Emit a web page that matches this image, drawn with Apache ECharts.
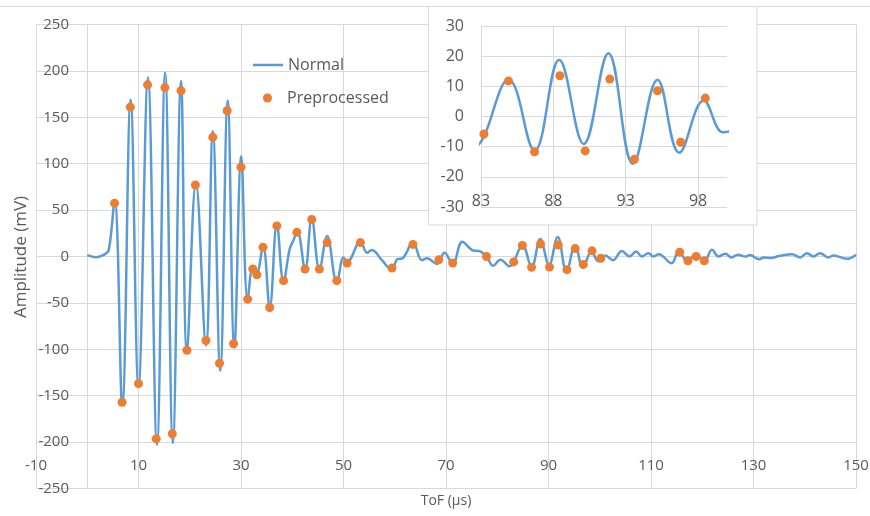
<!DOCTYPE html>
<html>
<head>
<meta charset="utf-8">
<script src="https://cdn.jsdelivr.net/npm/echarts@6/dist/echarts.min.js"></script>
<style>
  html, body { margin: 0; padding: 0; background: #fff; }
  #chart { width: 870px; height: 516px; }
</style>
</head>
<body>
<div id="chart"></div>
<script>
// Time of flight (µs) and amplitude (mV) of the raw ("Normal") signal
const normalTof = [
  0, 1.7, 3.3, 4.2, 5.33, 6.83, 8.46, 10.0, 11.84, 13.6, 15.2, 16.7, 18.3, 19.45,
  21.2, 23.16, 24.5, 25.95, 27.4, 28.7, 30.05, 31.3, 32.3, 33.0, 34.3, 35.6, 37.0,
  38.3, 39.5, 40.2, 41.0, 42.5, 43.8, 45.3, 46.8, 48.7, 50.0, 50.7, 53.3, 54.6,
  55.5, 57.5, 59.4, 60.5, 61.5, 63.55, 65.3, 66.3, 68.2, 69.7, 71.3, 73.2, 75.1,
  76.7, 77.9, 79.2, 80.6, 82.4, 84.9, 86.7, 88.4, 90.1, 91.8, 93.5, 95.2, 96.7,
  98.4, 99.7, 100.2, 101.1, 102.6, 104.3, 105.8, 107.1, 108.2, 109.5, 110.5,
  111.5, 114, 115.4, 117.1, 118.8, 120.4, 121.9, 123.2, 124.5, 125.7, 127, 128.4,
  129.3, 131.1, 132, 133.4, 135, 137.5, 139.1, 140.4, 141.7, 143, 144.6, 145.6,
  148.2, 150
];
const normalAmp = [
  1.5, -0.7, 2, 7, 61, -160, 169, -140, 193, -203, 198, -201, 189, -103,
  80, -96, 135, -123, 168, -98, 108, -47, -12, -19, 11, -55, 35,
  -27, 8, 17, 27, -14, 41, -14, 22, -28, -1, -6, 16, 4,
  7, -4, -14, -3, -2, 15, -4, -2, -8, 4, -8, 16, 7,
  5.5, 0, -10, -3.5, -10.5, 12.2, -11.3, 18.8, -9.1, 21, -15.7, 12.2, -12,
  5.3, -5.2, -4.8, 1, -4, 6, 0, 5.4, 0, 3.6, 0,
  2.5, -7.2, 5.4, -5, 2.5, -5.5, 7.2, 0, 3, -1, 2, 0,
  1.5, -3, -1, -1.5, 0.5, 2.5, -1, 3.6, 0, 3.6, -1, 1,
  -2.5, 2
];

// Preprocessed samples
const prepTof = [
  5.33, 6.8, 8.4, 10.0, 11.77, 13.46, 15.15, 16.6, 18.3, 19.45, 21.1, 23.16,
  24.5, 25.8, 27.3, 28.55, 30.0, 31.3, 32.3, 33.1, 34.3, 35.6, 37.0, 38.3,
  40.9, 42.5, 43.8, 45.3, 46.8, 48.7, 50.7, 53.3, 59.45, 63.55, 68.6, 71.3,
  77.9, 83.2, 84.9, 86.7, 88.45, 90.2, 91.9, 93.6, 95.2, 96.8, 98.5, 100.2,
  115.6, 117.2, 118.8, 120.4
];
const prepAmp = [
  57.5, -157, 161, -137, 185, -196.5, 182, -191, 178.6, -101, 77, -90.5,
  128.6, -115, 157, -94, 96.3, -46, -13.4, -19.7, 10, -55, 33, -26,
  26, -13.6, 40, -13.6, 15, -26, -7, 15, -12.5, 13, -3.6, -7,
  0, -5.8, 11.8, -11.7, 13.5, -11.4, 12.4, -14.2, 8.5, -8.5, 6.1, -2,
  4.7, -4.7, 0, -4.7
];

const normalData = normalTof.map((t, i) => [t, normalAmp[i]]);
const prepData = prepTof.map((t, i) => [t, prepAmp[i]]);

const FONT = 'Open Sans';
const TEXT = '#595959';
const GRID = '#D9D9D9';
const BLUE = '#5B9BD5';
const ORANGE = '#ED7D31';

const chart = echarts.init(document.getElementById('chart'), null, { renderer: 'canvas' });

chart.setOption({
  animation: false,
  backgroundColor: '#fff',
  textStyle: { fontFamily: FONT },
  grid: [
    { left: 36, right: 14, top: 24.5, bottom: 27.5, outerBoundsMode: 'none', containLabel: false },
    { left: 481, right: 143, top: 26, bottom: 309, outerBoundsMode: 'none', containLabel: false, z: 4 }
  ],
  legend: [
    {
      data: [{ name: 'Normal', icon: 'rect' }], left: 248, top: 52, itemWidth: 30, itemHeight: 2.5,
      textStyle: { color: TEXT, fontSize: 16, fontFamily: FONT }, z: 4
    },
    {
      data: [{ name: 'Preprocessed', icon: 'circle' }], left: 258, top: 85,
      itemWidth: 9, itemHeight: 9,
      textStyle: { color: TEXT, fontSize: 16, fontFamily: FONT, padding: [0, 0, 0, 10] }, z: 4
    }
  ],
  xAxis: [
    {
      type: 'value', gridIndex: 0, min: -10, max: 150, interval: 20,
      axisLine: { show: false, onZero: false },
      axisTick: { show: false },
      axisLabel: { color: TEXT, fontSize: 15, fontFamily: FONT, margin: -30 },
      splitLine: { lineStyle: { color: GRID, width: 1 } },
      name: 'ToF (µs)', nameLocation: 'middle', nameGap: 4,
      nameTextStyle: { color: TEXT, fontSize: 14, fontFamily: FONT }
    },
    {
      type: 'value', gridIndex: 1, min: 83, max: 100, interval: 5, z: 6,
      axisLine: { show: false, onZero: false },
      axisTick: { show: false },
      axisLabel: { color: TEXT, fontSize: 16, fontFamily: FONT, margin: -14, showMaxLabel: false },
      splitLine: { showMaxLine: false, lineStyle: { color: GRID, width: 1 } }
    }
  ],
  yAxis: [
    {
      // vertical axis sits on ToF = 0 (51 px right of the plot's left edge)
      type: 'value', gridIndex: 0, min: -250, max: 250, interval: 50, offset: -51,
      axisLine: { show: true, onZero: false, lineStyle: { color: GRID, width: 1 } },
      axisTick: { show: false },
      axisLabel: { color: TEXT, fontSize: 15, fontFamily: FONT, margin: 18 },
      splitLine: { lineStyle: { color: GRID, width: 1 } }
    },
    {
      type: 'value', gridIndex: 1, min: -30, max: 30, interval: 10, z: 6,
      axisLine: { show: false, onZero: false },
      axisTick: { show: false },
      axisLabel: { color: TEXT, fontSize: 16, fontFamily: FONT, margin: 17 },
      splitLine: { lineStyle: { color: GRID, width: 1 } }
    }
  ],
  graphic: [
    {
      type: 'line', z: 1,
      shape: { x1: 0, y1: 6.5, x2: 870, y2: 6.5 },
      style: { stroke: GRID, lineWidth: 1 }
    },
    {
      type: 'rect', z: 3,
      shape: { x: 428.5, y: 6.5, width: 328.5, height: 218.5 },
      style: { fill: '#fff', stroke: GRID, lineWidth: 1 }
    },
    {
      type: 'text', z: 4,
      x: 21, y: 257, rotation: Math.PI / 2,
      style: {
        text: 'Amplitude (mV)', fill: TEXT, font: '17px "Open Sans"',
        textAlign: 'center', textVerticalAlign: 'middle'
      }
    }
  ],
  series: [
    {
      name: 'Normal', type: 'line', xAxisIndex: 0, yAxisIndex: 0,
      data: normalData, symbol: 'none', smooth: 0.4, z: 2,
      lineStyle: { color: BLUE, width: 2.5 }, itemStyle: { color: BLUE }
    },
    {
      name: 'Preprocessed', type: 'scatter', xAxisIndex: 0, yAxisIndex: 0,
      data: prepData, symbolSize: 9, z: 3,
      itemStyle: { color: ORANGE, opacity: 1 }
    },
    {
      name: 'Normal', type: 'line', xAxisIndex: 1, yAxisIndex: 1,
      data: normalData, symbol: 'none', smooth: 0.4, z: 7, clip: true,
      lineStyle: { color: BLUE, width: 2.5 }, itemStyle: { color: BLUE }
    },
    {
      name: 'Preprocessed', type: 'scatter', xAxisIndex: 1, yAxisIndex: 1,
      data: prepData, symbolSize: 9, z: 8, clip: true,
      itemStyle: { color: ORANGE, opacity: 1 }
    }
  ]
});
</script>
</body>
</html>
